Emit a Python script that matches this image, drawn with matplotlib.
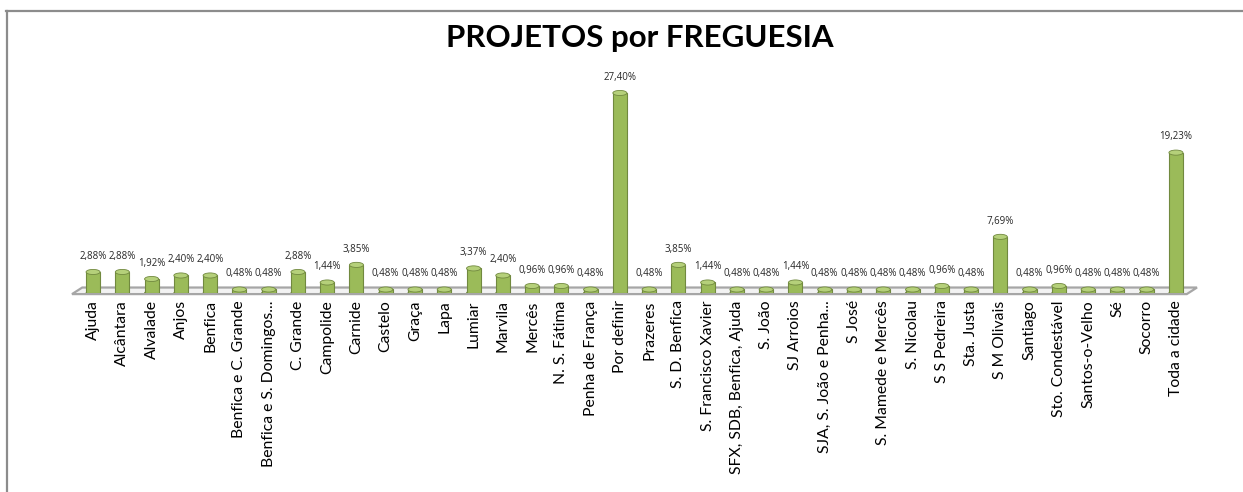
import matplotlib.pyplot as plt
from matplotlib.patches import Ellipse, Polygon
from matplotlib.lines import Line2D

freguesias = ['Ajuda', 'Alcântara', 'Alvalade', 'Anjos', 'Benfica',
              'Benfica e C. Grande', 'Benfica e S. Domingos...', 'C. Grande',
              'Campolide', 'Carnide', 'Castelo', 'Graça', 'Lapa', 'Lumiar',
              'Marvila', 'Mercês', 'N. S. Fátima', 'Penha de França',
              'Por definir', 'Prazeres', 'S. D. Benfica', 'S. Francisco Xavier',
              'SFX, SDB, Benfica, Ajuda', 'S. João', 'SJ Arroios',
              'SJA, S. João e Penha...', 'S José', 'S. Mamede e Mercês',
              'S. Nicolau', 'S S Pedreira', 'Sta. Justa', 'S M Olivais',
              'Santiago', 'Sto. Condestável', 'Santos-o-Velho', 'Sé',
              'Socorro', 'Toda a cidade']
percent = [2.88, 2.88, 1.92, 2.40, 2.40, 0.48, 0.48, 2.88, 1.44, 3.85,
           0.48, 0.48, 0.48, 3.37, 2.40, 0.96, 0.96, 0.48, 27.40, 0.48,
           3.85, 1.44, 0.48, 0.48, 1.44, 0.48, 0.48, 0.48, 0.48, 0.96,
           0.48, 7.69, 0.48, 0.96, 0.48, 0.48, 0.48, 19.23]

W, H = 1243, 492
fig = plt.figure(figsize=(W / 100, H / 100), dpi=100)
fig.patch.set_facecolor('white')

# axes placed in pixel terms: floor from x=72 to 1197, baseline at y=293
left, right = 72, 1197
base, top = 293, 74
ax = fig.add_axes([left / W, (H - base) / H, (right - left) / W, (base - top) / H])
ax.set_xlim(-0.72, len(percent) - 0.28)
ax.set_ylim(0, 30)
ax.axis('off')

# floor of the 3D-style chart
x0, x1 = -0.72, len(percent) - 0.28
floor = Polygon([(x0, -0.15), (x1 - 0.35, -0.15), (x1, 0.75), (x0 + 0.35, 0.75)],
                closed=True, facecolor='#f2f2f2', edgecolor='#a6a6a6', lw=1.6,
                clip_on=False, zorder=1)
ax.add_patch(floor)

bw = 0.48
cap_h = 0.7
xs = list(range(len(percent)))
ax.bar(xs, percent, width=bw, color='#9bbb59', edgecolor='#71893f', lw=0.8,
       zorder=2)
for x, v in zip(xs, percent):
    ax.add_patch(Ellipse((x, v), bw, cap_h, facecolor='#b5d07a',
                         edgecolor='#71893f', lw=0.6, zorder=3))
    ax.add_patch(Ellipse((x, 0), bw, cap_h, facecolor='#9bbb59',
                         edgecolor='#71893f', lw=0.6, zorder=1.5))
    ax.text(x, v + 1.4, f'{v:.2f}%'.replace('.', ','), ha='center',
            va='bottom', fontsize=7, family='Open Sans', color='#262626',
            zorder=4)

for x, name in zip(xs, freguesias):
    ax.text(x, -1.0, name, rotation=90, ha='center', va='top', fontsize=11.3,
            family='Lato', color='black', clip_on=False)

fig.text(640 / W, 1 - 38 / H, 'PROJETOS por FREGUESIA', ha='center',
         va='center', fontsize=22.5, fontweight='bold', family='Lato')

# chart frame (top and left edges visible)
fig.add_artist(Line2D([6 / W, 1], [1 - 11 / H, 1 - 11 / H], color='#8c8c8c',
                      lw=1.6, transform=fig.transFigure))
fig.add_artist(Line2D([7 / W, 7 / W], [0, 1 - 11 / H], color='#8c8c8c',
                      lw=1.6, transform=fig.transFigure))

fig.savefig('out.png', dpi=100)
